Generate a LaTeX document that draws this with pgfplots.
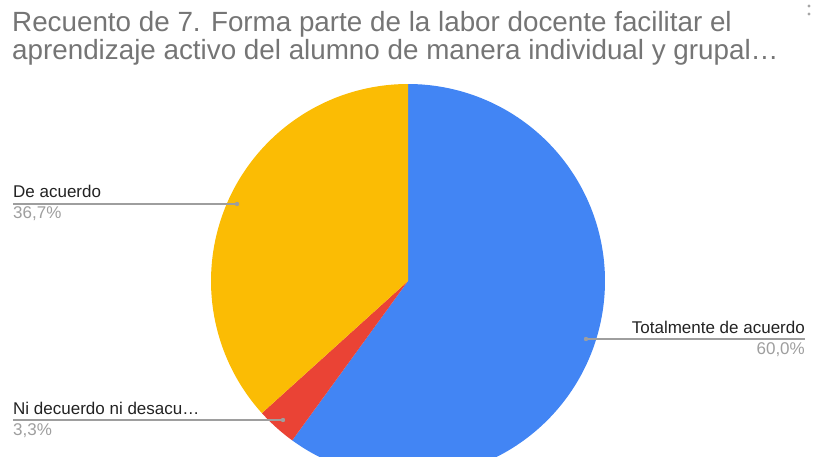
\documentclass[border=0pt]{standalone}
\usepackage{pgfplots}
\pgfplotsset{compat=1.18}
\usepackage{pgfplotstable}
\usepackage{fontspec}
\setmainfont{Liberation Sans}

\definecolor{gblue}{HTML}{4285F4}
\definecolor{gred}{HTML}{EA4335}
\definecolor{gyellow}{HTML}{FBBC04}
\definecolor{titlegrey}{HTML}{757575}
\definecolor{labeldark}{HTML}{222222}
\definecolor{pctgrey}{HTML}{9E9E9E}
\definecolor{linegrey}{HTML}{9E9E9E}

% share of answers, percent
\pgfplotstableread{
label value
{Totalmente de acuerdo} 60.0
{Ni decuerdo ni desacuerdo} 3.3
{De acuerdo} 36.7
}\piedata

\pgfplotstablegetelem{0}{value}\of\piedata \let\va\pgfplotsretval
\pgfplotstablegetelem{1}{value}\of\piedata \let\vb\pgfplotsretval
\pgfplotstablegetelem{2}{value}\of\piedata \let\vc\pgfplotsretval
\pgfmathsetmacro\aA{90}
\pgfmathsetmacro\aB{\aA-3.6*\va}
\pgfmathsetmacro\aC{\aB-3.6*\vb}
\pgfmathsetmacro\aD{\aC-3.6*\vc}

\newcommand{\lbl}{\fontsize{17}{19}\selectfont}

\begin{document}
\begin{tikzpicture}
\begin{axis}[
    width=814pt, height=457pt,
    scale only axis,
    xmin=0, xmax=814, ymin=0, ymax=457,
    y dir=reverse,
    hide axis,
    clip=true,
]
    % keep the page the size of the axis
    \path (0,0) rectangle (814,457);

    % slices, clockwise from the top
    \addplot[fill=gblue, draw=none, domain=\aB:\aA, samples=160]
        ({408+197*cos(x)},{281-197*sin(x)}) -- (408,281) -- cycle;
    \addplot[fill=gred, draw=none, domain=\aC:\aB, samples=20]
        ({408+197*cos(x)},{281-197*sin(x)}) -- (408,281) -- cycle;
    \addplot[fill=gyellow, draw=none, domain=\aD:\aC, samples=120]
        ({408+197*cos(x)},{281-197*sin(x)}) -- (408,281) -- cycle;

    % leader lines
    \draw[linegrey, line width=1.2pt] (13,204) -- (237,204);
    \fill[linegrey] (237,204) circle (2.2pt);
    \draw[linegrey, line width=1.2pt] (586,339) -- (805,339);
    \fill[linegrey] (586,339) circle (2.2pt);
    \draw[linegrey, line width=1.2pt] (13,420) -- (283,420);
    \fill[linegrey] (283,420) circle (2.2pt);

    % labels
    \node[anchor=base west, inner sep=0, text=labeldark] at (13,198) {\lbl De acuerdo};
    \node[anchor=base west, inner sep=0, text=pctgrey] at (13,219) {\lbl 36,7\%};
    \node[anchor=base east, inner sep=0, text=labeldark] at (805,333) {\lbl Totalmente de acuerdo};
    \node[anchor=base east, inner sep=0, text=pctgrey] at (805,354) {\lbl 60,0\%};
    \node[anchor=base west, inner sep=0, text=labeldark] at (13,414) {\lbl Ni decuerdo ni desacu…};
    \node[anchor=base west, inner sep=0, text=pctgrey] at (13,435) {\lbl 3,3\%};

    % title
    \node[anchor=base west, inner sep=0, text=titlegrey] at (12,32)
        {\fontsize{27.8}{30}\selectfont Recuento de 7. Forma parte de la labor docente facilitar el};
    \node[anchor=base west, inner sep=0, text=titlegrey] at (12,60)
        {\fontsize{27.8}{30}\selectfont aprendizaje activo del alumno de manera individual y grupal…};

    % menu dots
    \fill[gray!70] (809,6) circle (1.6pt);
    \fill[gray!70] (809,14) circle (1.6pt);
\end{axis}
\end{tikzpicture}
\end{document}
